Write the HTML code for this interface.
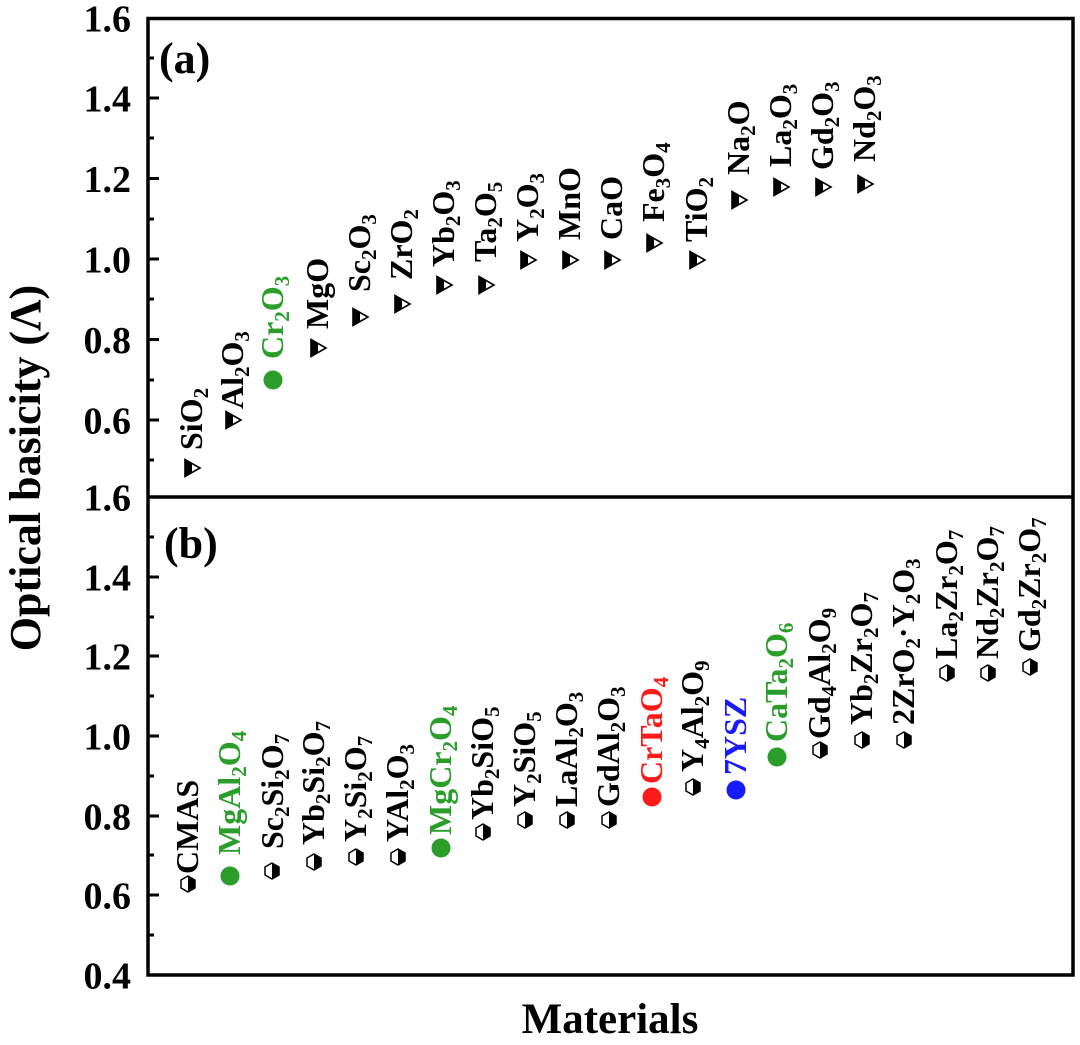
<!DOCTYPE html>
<html>
<head>
<meta charset="utf-8">
<style>
  html, body { margin: 0; padding: 0; background: #ffffff; }
  svg { display: block; }
  text { font-family: "Liberation Serif", "DejaVu Serif", serif; font-weight: bold; }
  .lbl { font-size: 32px; fill: #000; }
  .s { font-size: 21px; }
  .g { fill: #2a9d2a; }
  .r { fill: #ff1a1a; }
  .b { fill: #1a1aff; }
  .tick { font-size: 38px; }
</style>
</head>
<body>
<svg width="1080" height="1045" viewBox="0 0 1080 1045" xmlns="http://www.w3.org/2000/svg">
  <defs>
    <g id="tri">
      <polygon points="-7,-8.5 -7,8.5 8,0" fill="#fff" stroke="#000" stroke-width="1.6" stroke-linejoin="miter"/>
      <polygon points="-7,-8.5 -7,8.5 0,4.5 0,-4.5" fill="#000"/>
    </g>
    <g id="hex">
      <polygon points="0,-8 7,-4 7,4 0,8 -7,4 -7,-4" fill="#fff" stroke="#000" stroke-width="1.5"/>
      <polygon points="0,-8 7,-4 7,4 0,8" fill="#000"/>
    </g>
  </defs>

  <rect x="0" y="0" width="1080" height="1045" fill="#fff"/>

  <!-- Frames -->
  <rect x="148" y="18.5" width="925" height="956.5" fill="none" stroke="#000" stroke-width="3.5"/>
  <line x1="148" y1="497" x2="1073" y2="497" stroke="#000" stroke-width="3.5"/>

  <!-- Ticks -->
  <g stroke="#000" stroke-width="3">
    <line x1="148" y1="98" x2="159" y2="98"/>
    <line x1="148" y1="178.5" x2="159" y2="178.5"/>
    <line x1="148" y1="259" x2="159" y2="259"/>
    <line x1="148" y1="339.5" x2="159" y2="339.5"/>
    <line x1="148" y1="420" x2="159" y2="420"/>
    <line x1="148" y1="58" x2="154" y2="58"/>
    <line x1="148" y1="138" x2="154" y2="138"/>
    <line x1="148" y1="219" x2="154" y2="219"/>
    <line x1="148" y1="299" x2="154" y2="299"/>
    <line x1="148" y1="380" x2="154" y2="380"/>
    <line x1="148" y1="460" x2="154" y2="460"/>
    <line x1="148" y1="577" x2="159" y2="577"/>
    <line x1="148" y1="656" x2="159" y2="656"/>
    <line x1="148" y1="736" x2="159" y2="736"/>
    <line x1="148" y1="816" x2="159" y2="816"/>
    <line x1="148" y1="895" x2="159" y2="895"/>
    <line x1="148" y1="537" x2="154" y2="537"/>
    <line x1="148" y1="617" x2="154" y2="617"/>
    <line x1="148" y1="696" x2="154" y2="696"/>
    <line x1="148" y1="776" x2="154" y2="776"/>
    <line x1="148" y1="855" x2="154" y2="855"/>
    <line x1="148" y1="935" x2="154" y2="935"/>
  </g>

  <!-- Tick labels -->
  <g class="tick" text-anchor="end">
    <text x="131" y="31.5">1.6</text>
    <text x="131" y="111.5">1.4</text>
    <text x="131" y="192">1.2</text>
    <text x="131" y="272.5">1.0</text>
    <text x="131" y="353">0.8</text>
    <text x="131" y="433.5">0.6</text>
    <text x="131" y="510.5">1.6</text>
    <text x="131" y="590.5">1.4</text>
    <text x="131" y="669.5">1.2</text>
    <text x="131" y="749.5">1.0</text>
    <text x="131" y="829.5">0.8</text>
    <text x="131" y="908.5">0.6</text>
    <text x="131" y="988.5">0.4</text>
  </g>

  <!-- Axis titles -->
  <text transform="translate(40,468) rotate(-90)" text-anchor="middle" font-size="44">Optical basicity (Λ)</text>
  <text x="610" y="1033" text-anchor="middle" font-size="43">Materials</text>

  <!-- Panel labels -->
  <text x="159" y="73" font-size="44">(a)</text>
  <text x="164" y="558" font-size="44">(b)</text>

  <!-- Panel a markers -->
  <use href="#tri" x="192" y="468"/>
  <use href="#tri" x="233" y="420"/>
  <circle cx="273" cy="380" r="9.5" fill="#2a9d2a"/>
  <use href="#tri" x="318" y="348"/>
  <use href="#tri" x="360" y="317"/>
  <use href="#tri" x="402" y="304"/>
  <use href="#tri" x="444" y="285"/>
  <use href="#tri" x="486" y="285"/>
  <use href="#tri" x="528" y="260"/>
  <use href="#tri" x="570" y="260"/>
  <use href="#tri" x="612" y="260"/>
  <use href="#tri" x="654" y="243"/>
  <use href="#tri" x="697" y="260"/>
  <use href="#tri" x="739" y="200"/>
  <use href="#tri" x="781" y="187"/>
  <use href="#tri" x="823" y="187"/>
  <use href="#tri" x="865" y="184"/>

  <!-- Panel a labels -->
  <g class="lbl">
    <text transform="translate(202,450) rotate(-90)">SiO<tspan class="s" dy="6">2</tspan></text>
    <text transform="translate(243,409) rotate(-90)">Al<tspan class="s" dy="6">2</tspan><tspan dy="-6">O</tspan><tspan class="s" dy="6">3</tspan></text>
    <text class="g" transform="translate(283,359) rotate(-90)">Cr<tspan class="s" dy="6">2</tspan><tspan dy="-6">O</tspan><tspan class="s" dy="6">3</tspan></text>
    <text transform="translate(328,329) rotate(-90)">MgO</text>
    <text transform="translate(370,292) rotate(-90)">Sc<tspan class="s" dy="6">2</tspan><tspan dy="-6">O</tspan><tspan class="s" dy="6">3</tspan></text>
    <text transform="translate(412,280) rotate(-90)">ZrO<tspan class="s" dy="6">2</tspan></text>
    <text transform="translate(454,267) rotate(-90)">Yb<tspan class="s" dy="6">2</tspan><tspan dy="-6">O</tspan><tspan class="s" dy="6">3</tspan></text>
    <text transform="translate(496,262) rotate(-90)">Ta<tspan class="s" dy="6">2</tspan><tspan dy="-6">O</tspan><tspan class="s" dy="6">5</tspan></text>
    <text transform="translate(538,242) rotate(-90)">Y<tspan class="s" dy="6">2</tspan><tspan dy="-6">O</tspan><tspan class="s" dy="6">3</tspan></text>
    <text transform="translate(580,240) rotate(-90)">MnO</text>
    <text transform="translate(622,240) rotate(-90)">CaO</text>
    <text transform="translate(664,222) rotate(-90)">Fe<tspan class="s" dy="6">3</tspan><tspan dy="-6">O</tspan><tspan class="s" dy="6">4</tspan></text>
    <text transform="translate(707,242) rotate(-90)">TiO<tspan class="s" dy="6">2</tspan></text>
    <text transform="translate(749,175) rotate(-90)">Na<tspan class="s" dy="6">2</tspan><tspan dy="-6">O</tspan></text>
    <text transform="translate(791,167) rotate(-90)">La<tspan class="s" dy="6">2</tspan><tspan dy="-6">O</tspan><tspan class="s" dy="6">3</tspan></text>
    <text transform="translate(833,170) rotate(-90)">Gd<tspan class="s" dy="6">2</tspan><tspan dy="-6">O</tspan><tspan class="s" dy="6">3</tspan></text>
    <text transform="translate(875,162) rotate(-90)">Nd<tspan class="s" dy="6">2</tspan><tspan dy="-6">O</tspan><tspan class="s" dy="6">3</tspan></text>
  </g>

  <!-- Panel b markers -->
  <use href="#hex" x="188" y="884"/>
  <circle cx="230" cy="876" r="9.5" fill="#2a9d2a"/>
  <use href="#hex" x="272" y="871"/>
  <use href="#hex" x="314" y="862"/>
  <use href="#hex" x="356" y="857"/>
  <use href="#hex" x="398" y="857"/>
  <circle cx="441" cy="848" r="9.5" fill="#2a9d2a"/>
  <use href="#hex" x="483" y="832"/>
  <use href="#hex" x="525" y="820"/>
  <use href="#hex" x="567" y="820"/>
  <use href="#hex" x="609" y="820"/>
  <circle cx="652" cy="797" r="9.5" fill="#ff1a1a"/>
  <use href="#hex" x="693" y="787"/>
  <circle cx="736" cy="790" r="9.5" fill="#1a1aff"/>
  <circle cx="777" cy="757" r="9.5" fill="#2a9d2a"/>
  <use href="#hex" x="820" y="750"/>
  <use href="#hex" x="862" y="740"/>
  <use href="#hex" x="904" y="740"/>
  <use href="#hex" x="947" y="673"/>
  <use href="#hex" x="988" y="673"/>
  <use href="#hex" x="1030" y="667"/>

  <!-- Panel b labels -->
  <g class="lbl">
    <text transform="translate(198,874) rotate(-90)">CMAS</text>
    <text class="g" transform="translate(240,855) rotate(-90)">MgAl<tspan class="s" dy="6">2</tspan><tspan dy="-6">O</tspan><tspan class="s" dy="6">4</tspan></text>
    <text transform="translate(283,849) rotate(-90)">Sc<tspan class="s" dy="6">2</tspan><tspan dy="-6">Si</tspan><tspan class="s" dy="6">2</tspan><tspan dy="-6">O</tspan><tspan class="s" dy="6">7</tspan></text>
    <text transform="translate(324,845) rotate(-90)">Yb<tspan class="s" dy="6">2</tspan><tspan dy="-6">Si</tspan><tspan class="s" dy="6">2</tspan><tspan dy="-6">O</tspan><tspan class="s" dy="6">7</tspan></text>
    <text transform="translate(366,842) rotate(-90)">Y<tspan class="s" dy="6">2</tspan><tspan dy="-6">Si</tspan><tspan class="s" dy="6">2</tspan><tspan dy="-6">O</tspan><tspan class="s" dy="6">7</tspan></text>
    <text transform="translate(408,842) rotate(-90)">YAl<tspan class="s" dy="6">2</tspan><tspan dy="-6">O</tspan><tspan class="s" dy="6">3</tspan></text>
    <text class="g" transform="translate(451,835) rotate(-90)">MgCr<tspan class="s" dy="6">2</tspan><tspan dy="-6">O</tspan><tspan class="s" dy="6">4</tspan></text>
    <text transform="translate(493,820) rotate(-90)">Yb<tspan class="s" dy="6">2</tspan><tspan dy="-6">SiO</tspan><tspan class="s" dy="6">5</tspan></text>
    <text transform="translate(535,807) rotate(-90)">Y<tspan class="s" dy="6">2</tspan><tspan dy="-6">SiO</tspan><tspan class="s" dy="6">5</tspan></text>
    <text transform="translate(577,807) rotate(-90)">LaAl<tspan class="s" dy="6">2</tspan><tspan dy="-6">O</tspan><tspan class="s" dy="6">3</tspan></text>
    <text transform="translate(619,807) rotate(-90)">GdAl<tspan class="s" dy="6">2</tspan><tspan dy="-6">O</tspan><tspan class="s" dy="6">3</tspan></text>
    <text class="r" transform="translate(662,784) rotate(-90)">CrTaO<tspan class="s" dy="6">4</tspan></text>
    <text transform="translate(703,772) rotate(-90)">Y<tspan class="s" dy="6">4</tspan><tspan dy="-6">Al</tspan><tspan class="s" dy="6">2</tspan><tspan dy="-6">O</tspan><tspan class="s" dy="6">9</tspan></text>
    <text class="b" transform="translate(746,775) rotate(-90)">7YSZ</text>
    <text class="g" transform="translate(787,742) rotate(-90)">CaTa<tspan class="s" dy="6">2</tspan><tspan dy="-6">O</tspan><tspan class="s" dy="6">6</tspan></text>
    <text transform="translate(830,739) rotate(-90)">Gd<tspan class="s" dy="6">4</tspan><tspan dy="-6">Al</tspan><tspan class="s" dy="6">2</tspan><tspan dy="-6">O</tspan><tspan class="s" dy="6">9</tspan></text>
    <text transform="translate(872,725) rotate(-90)">Yb<tspan class="s" dy="6">2</tspan><tspan dy="-6">Zr</tspan><tspan class="s" dy="6">2</tspan><tspan dy="-6">O</tspan><tspan class="s" dy="6">7</tspan></text>
    <text transform="translate(914,725) rotate(-90)">2ZrO<tspan class="s" dy="6">2</tspan><tspan dy="-6">·Y</tspan><tspan class="s" dy="6">2</tspan><tspan dy="-6">O</tspan><tspan class="s" dy="6">3</tspan></text>
    <text transform="translate(957,659) rotate(-90)">La<tspan class="s" dy="6">2</tspan><tspan dy="-6">Zr</tspan><tspan class="s" dy="6">2</tspan><tspan dy="-6">O</tspan><tspan class="s" dy="6">7</tspan></text>
    <text transform="translate(998,659) rotate(-90)">Nd<tspan class="s" dy="6">2</tspan><tspan dy="-6">Zr</tspan><tspan class="s" dy="6">2</tspan><tspan dy="-6">O</tspan><tspan class="s" dy="6">7</tspan></text>
    <text transform="translate(1040,652) rotate(-90)">Gd<tspan class="s" dy="6">2</tspan><tspan dy="-6">Zr</tspan><tspan class="s" dy="6">2</tspan><tspan dy="-6">O</tspan><tspan class="s" dy="6">7</tspan></text>
  </g>
</svg>
</body>
</html>
